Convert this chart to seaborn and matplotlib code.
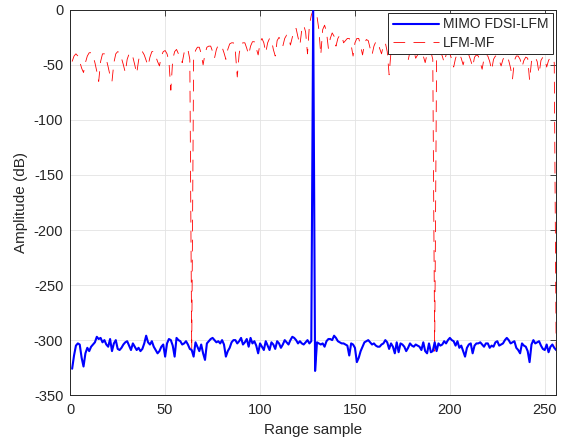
import numpy as np
import pandas as pd
import matplotlib
matplotlib.use('Agg')
import matplotlib.pyplot as plt
import seaborn as sns

# range samples 1..256
samples = np.arange(1, 257)

# MIMO FDSI-LFM output (dB)
mimo_db = [
    -326, -314, -305, -303, -304, -316, -324, -312, -307, -310,
    -306, -304, -302, -297, -299, -298, -302, -300, -304, -306,
    -299, -310, -303, -300, -308, -309, -307, -304, -302, -301,
    -305, -309, -303, -306, -309, -307, -310, -308, -303, -296,
    -302, -304, -301, -306, -309, -312, -310, -306, -304, -315,
    -303, -299, -300, -305, -315, -298, -300, -301, -304, -303,
    -301, -304, -308, -309, -315, -302, -306, -310, -304, -312,
    -318, -303, -301, -299, -298, -300, -302, -301, -303, -300,
    -304, -315, -310, -307, -302, -300, -300, -303, -301, -298,
    -304, -302, -299, -306, -298, -303, -301, -305, -312, -303,
    -306, -309, -301, -305, -309, -302, -304, -308, -301, -303,
    -307, -304, -300, -302, -304, -300, -297, -298, -300, -303,
    -301, -303, -304, -302, -300, -303, -301, 0, -328, -302,
    -303, -304, -303, -306, -301, -299, -299, -300, -296, -298,
    -301, -302, -303, -303, -304, -305, -314, -303, -304, -307,
    -320, -316, -310, -306, -302, -301, -300, -302, -304, -303,
    -305, -306, -306, -304, -303, -300, -302, -308, -303, -306,
    -312, -302, -311, -303, -304, -306, -310, -307, -303, -305,
    -306, -304, -305, -306, -309, -302, -310, -312, -303, -311,
    -310, -302, -310, -303, -305, -304, -301, -303, -300, -298,
    -300, -301, -305, -301, -307, -305, -310, -315, -307, -304,
    -303, -312, -305, -303, -303, -302, -304, -306, -303, -303,
    -307, -305, -306, -302, -301, -305, -304, -303, -300, -298,
    -300, -303, -302, -301, -307, -309, -312, -303, -305, -306,
    -310, -320, -304, -300, -303, -302, -301, -305, -308, -309,
    -304, -311, -306, -304, -307, -309,
]

# conventional LFM matched filter output (dB)
lfm_db = [
    -47, -42, -40, -42, -47, -53, -57, -48, -42, -39,
    -39, -42, -48, -56, -65, -47, -40, -40, -45, -52,
    -60, -65, -48, -40, -38, -39, -44, -50, -57, -45,
    -40, -39, -43, -50, -58, -46, -39, -38, -41, -46,
    -51, -43, -38, -38, -42, -47, -51, -42, -38, -37,
    -40, -47, -73, -45, -38, -36, -40, -44, -48, -39,
    -35, -36, -45, -310, -45, -37, -34, -34, -40, -50,
    -40, -34, -33, -33, -38, -44, -36, -32, -32, -34,
    -39, -45, -36, -31, -30, -30, -38, -61, -40, -31,
    -30, -30, -35, -41, -33, -29, -29, -35, -41, -30,
    -26, -30, -39, -30, -26, -27, -36, -42, -28, -25,
    -28, -33, -26, -23, -25, -32, -25, -18, -17, -25,
    -32, -18, -14, -20, -40, -14, -5, 0, -2, -6,
    -18, -41, -18, -14, -20, -35, -26, -21, -24, -33,
    -26, -23, -23, -30, -28, -26, -26, -32, -42, -30,
    -26, -26, -33, -41, -31, -27, -28, -35, -41, -33,
    -29, -29, -35, -40, -32, -30, -38, -59, -38, -32,
    -32, -36, -42, -37, -34, -35, -40, -46, -38, -35,
    -37, -44, -41, -37, -37, -42, -48, -40, -37, -38,
    -45, -310, -45, -38, -38, -42, -48, -41, -39, -40,
    -45, -52, -44, -40, -40, -44, -50, -43, -40, -41,
    -46, -52, -43, -41, -42, -48, -54, -44, -41, -42,
    -47, -55, -45, -42, -42, -46, -51, -45, -42, -42,
    -46, -53, -63, -46, -42, -42, -45, -52, -46, -43,
    -44, -64, -47, -43, -43, -47, -58, -46, -43, -44,
    -52, -46, -43, -44, -48, -310,
]

x_ticks = [0, 50, 100, 150, 200, 250]
y_ticks = [-350, -300, -250, -200, -150, -100, -50, 0]

sns.set_theme(style='white')
plt.rcParams['font.family'] = ['Liberation Sans', 'DejaVu Sans']
plt.rcParams['axes.unicode_minus'] = False

df = pd.DataFrame({'sample': samples, 'mimo': mimo_db, 'lfm': lfm_db})

fig = plt.figure(figsize=(5.71, 4.45), dpi=100)
ax = fig.add_axes([0.123, 0.112, 0.851, 0.866])

sns.lineplot(data=df, x='sample', y='mimo', color='#0000ff', linewidth=1.5,
             label='MIMO FDSI-LFM', ax=ax, zorder=3)
sns.lineplot(data=df, x='sample', y='lfm', color='#ff0000', linewidth=0.6,
             linestyle=(0, (14, 10)), label='LFM-MF', ax=ax, zorder=2)

ax.set_xlim(0, 256)
ax.set_ylim(-350, 0)
ax.set_xticks(x_ticks)
ax.set_yticks(y_ticks)
ax.grid(True, color='#e3e3e3', linewidth=0.6)
ax.set_axisbelow(True)
ax.tick_params(direction='in', top=True, right=True, length=4, width=0.6,
               color='#262626', labelcolor='#262626', labelsize=10.5)
ax.tick_params(axis='x', pad=6)
ax.tick_params(axis='y', pad=5)
for s in ax.spines.values():
    s.set_color('#262626')
    s.set_linewidth(0.7)

ax.set_xlabel('Range sample', fontsize=11, color='#262626', labelpad=4)
ax.set_ylabel('Amplitude (dB)', fontsize=11, color='#262626', labelpad=4)

leg = ax.legend(loc='upper right', fontsize=10, frameon=True, fancybox=False,
                edgecolor='#262626', framealpha=1, borderaxespad=0.2,
                handlelength=3.3, handletextpad=0.3, borderpad=0.35,
                labelspacing=0.3)
leg.get_frame().set_linewidth(0.7)

fig.savefig('out.png', dpi=100)
plt.close(fig)
